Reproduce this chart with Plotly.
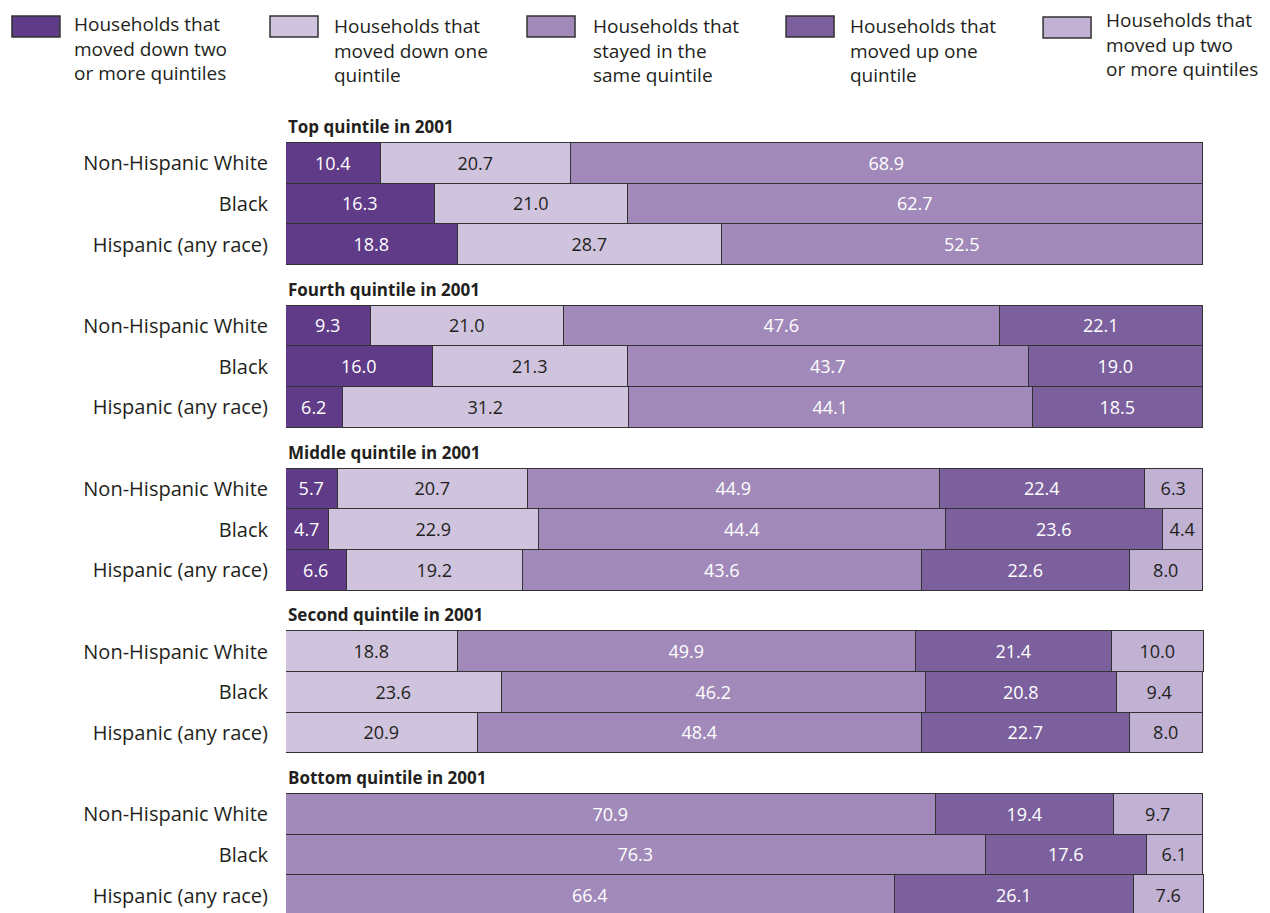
import plotly.graph_objects as go

# Household income-mobility shares (percent), 2001 quintile -> later quintile
groups = ["Top quintile in 2001", "Fourth quintile in 2001", "Middle quintile in 2001",
          "Second quintile in 2001", "Bottom quintile in 2001"]
races = ["Non-Hispanic White", "Black", "Hispanic (any race)"]

series_names = [
    ["Households that", "moved down two", "or more quintiles"],
    ["Households that", "moved down one", "quintile"],
    ["Households that", "stayed in the", "same quintile"],
    ["Households that", "moved up one", "quintile"],
    ["Households that", "moved up two", "or more quintiles"],
]

# one value per (group, race), groups in order above, races in order above
down_two = [10.4, 16.3, 18.8, 9.3, 16.0, 6.2, 5.7, 4.7, 6.6,
            None, None, None, None, None, None]
down_one = [20.7, 21.0, 28.7, 21.0, 21.3, 31.2, 20.7, 22.9, 19.2,
            18.8, 23.6, 20.9, None, None, None]
same = [68.9, 62.7, 52.5, 47.6, 43.7, 44.1, 44.9, 44.4, 43.6,
        49.9, 46.2, 48.4, 70.9, 76.3, 66.4]
up_one = [None, None, None, 22.1, 19.0, 18.5, 22.4, 23.6, 22.6,
          21.4, 20.8, 22.7, 19.4, 17.6, 26.1]
up_two = [None, None, None, None, None, None, 6.3, 4.4, 8.0,
          10.0, 9.4, 8.0, 9.7, 6.1, 7.6]

series_values = [down_two, down_one, same, up_one, up_two]
colors = ["#5f3b88", "#cfc3dd", "#a18ab9", "#7c5f9d", "#c1b2d4"]
text_colors = ["#ffffff", "#231f20", "#ffffff", "#ffffff", "#231f20"]

FONT = "Open Sans"
DARK = "#231f20"
W, H = 1270, 913
L = 286            # left edge of the bars
SPAN = 917         # pixels per 100 percent
XMAX = 100.1       # rounded shares can sum to slightly over 100
R = L + SPAN * XMAX / 100

# each group takes four row slots: one for its heading, three for bars
slot_of = []
for g in range(len(groups)):
    for r in range(len(races)):
        slot_of.append(4 * g + 1 + r + 0.5)

fig = go.Figure()
for vals, col, tcol in zip(series_values, colors, text_colors):
    fig.add_trace(go.Bar(
        x=vals, y=slot_of, orientation="h", width=1.0,
        marker=dict(color=col, line=dict(color="#333333", width=1.5)),
        texttemplate="%{x:.1f}", textposition="inside", insidetextanchor="middle",
        textangle=0, textfont=dict(family=FONT, size=18, color=tcol),
        cliponaxis=False, showlegend=False, hoverinfo="skip",
    ))

annotations = []
shapes = []
for g, name in enumerate(groups):
    annotations.append(dict(
        x=0, y=4 * g + 1, xref="x", yref="y", xanchor="left", yanchor="bottom",
        yshift=3, text=f"<b>{name}</b>", showarrow=False,
        font=dict(family=FONT, size=17, color=DARK)))


def xp(px):
    return (px - L) / (R - L)


def yp(py):
    return 1 - py / H


# legend drawn as swatches plus three-line captions
sw_x = [12, 270, 527, 786, 1043]
txt_x = [72, 332, 591, 848, 1104]
mid_line = [49, 50, 50, 50, 45]     # pixel centre of each caption block
sw_top = [16, 16, 16, 16, 17]
for i, lines in enumerate(series_names):
    shapes.append(dict(type="rect", xref="paper", yref="paper",
                       x0=xp(sw_x[i]), x1=xp(sw_x[i] + 48),
                       y0=yp(sw_top[i]), y1=yp(sw_top[i] + 21),
                       fillcolor=colors[i], line=dict(color="#333333", width=1.5)))
    annotations.append(dict(
        x=xp(txt_x[i]), y=yp(mid_line[i]), xref="paper", yref="paper",
        xanchor="left", yanchor="middle", align="left",
        text="<br>".join(lines), showarrow=False,
        font=dict(family=FONT, size=19, color=DARK)))

top_px = 102.3
row_px = 40.69
fig.update_layout(
    width=W, height=H, barmode="stack", bargap=0,
    margin=dict(l=L, r=W - R, t=0, b=0),
    paper_bgcolor="white", plot_bgcolor="white",
    xaxis=dict(range=[0, XMAX], visible=False, fixedrange=True),
    yaxis=dict(range=[(H - top_px) / row_px, -top_px / row_px],
               tickvals=slot_of, ticktext=races * len(groups),
               ticks="outside", ticklen=13, tickcolor="rgba(0,0,0,0)",
               showgrid=False, zeroline=False, showline=False,
               tickfont=dict(family=FONT, size=20, color=DARK)),
    annotations=annotations, shapes=shapes,
)

fig.write_html("out.html")
